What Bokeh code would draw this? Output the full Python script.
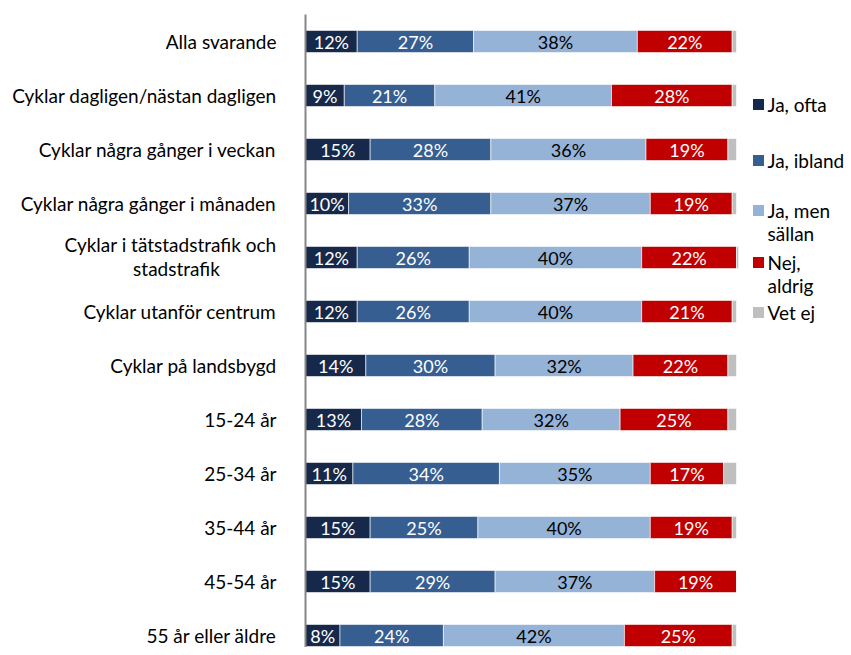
from bokeh.plotting import figure
from bokeh.models import Range1d, ColumnDataSource
from bokeh.core.properties import value
from bokeh.embed import file_html
from bokeh.resources import INLINE

categories = [
    "Alla svarande",
    "Cyklar dagligen/nästan dagligen",
    "Cyklar några gånger i veckan",
    "Cyklar några gånger i månaden",
    "Cyklar i tätstadstrafik och\nstadstrafik",
    "Cyklar utanför centrum",
    "Cyklar på landsbygd",
    "15-24 år",
    "25-34 år",
    "35-44 år",
    "45-54 år",
    "55 år eller äldre",
]
series_names = ["Ja, ofta", "Ja, ibland", "Ja, men sällan", "Nej, aldrig", "Vet ej"]
legend_lines = [["Ja, ofta"], ["Ja, ibland"], ["Ja, men", "sällan"], ["Nej,", "aldrig"], ["Vet ej"]]
ja_ofta = [12, 9, 15, 10, 12, 12, 14, 13, 11, 15, 15, 8]
ja_ibland = [27, 21, 28, 33, 26, 26, 30, 28, 34, 25, 29, 24]
ja_men_sallan = [38, 41, 36, 37, 40, 40, 32, 32, 35, 40, 37, 42]
nej_aldrig = [22, 28, 19, 19, 22, 21, 22, 25, 17, 19, 19, 25]
vet_ej = [1, 1, 2, 1, 0.5, 1, 2, 2, 3, 1, 0, 1]
colors = ["#17294A", "#375E91", "#95B3D7", "#C00000", "#BFBFBF"]
label_colors = ["white", "white", "black", "white", None]

FONT = "Lato"
W, H = 851, 647
px_per_unit = 4.31
x0 = -305 / px_per_unit
x1 = x0 + W / px_per_unit
row_px = 54.0
y_top = -41 / row_px
y_bot = y_top + H / row_px

p = figure(width=W, height=H, output_backend="svg", toolbar_location=None,
           x_range=Range1d(x0, x1), y_range=Range1d(y_bot, y_top),
           min_border=0, min_border_left=0, min_border_right=0,
           min_border_top=0, min_border_bottom=0)
p.axis.visible = False
p.grid.visible = False
p.outline_line_color = None
p.background_fill_color = "white"

series = [ja_ofta, ja_ibland, ja_men_sallan, nej_aldrig, vet_ej]
rows = list(range(len(categories)))
left = [0.0] * len(categories)
bar_h = 0.41
for vals, col, lc in zip(series, colors, label_colors):
    right = [l + v for l, v in zip(left, vals)]
    src = ColumnDataSource(dict(y=rows, left=left, right=right,
                                mid=[(l + r) / 2 for l, r in zip(left, right)],
                                lab=[f"{v:.0f}%" for v in vals]))
    p.hbar(y="y", left="left", right="right", height=bar_h, source=src,
           fill_color=col, line_color="white", line_width=0.6)
    if lc is not None:
        p.text(x="mid", y="y", text="lab", source=src, text_align="center",
               text_baseline="middle", text_color=lc, text_font=value(FONT),
               text_font_size="18px")
    left = right

# category axis line
p.segment(x0=[0], y0=[-0.5], x1=[0], y1=[y_bot], line_color="#868686", line_width=2)

# category labels
LSIZE = "19px"
lab_x = (276 - 305) / px_per_unit
single_y, single_t = [], []
for i, c in enumerate(categories):
    if "\n" in c:
        l1, l2 = c.split("\n")
        p.text(x=[lab_x], y=[i - 0.24], text=[l1], text_align="right",
               text_baseline="middle", text_color="black", text_font=value(FONT),
               text_font_size=LSIZE)
        p.text(x=[(176 - 305) / px_per_unit], y=[i + 0.2], text=[l2], text_align="center",
               text_baseline="middle", text_color="black", text_font=value(FONT),
               text_font_size=LSIZE)
    else:
        single_y.append(i)
        single_t.append(c)
p.text(x=[lab_x] * len(single_y), y=single_y, text=single_t, text_align="right",
       text_baseline="middle", text_color="black", text_font=value(FONT),
       text_font_size=LSIZE)

# legend
leg_sq_x = (758 - 305) / px_per_unit
leg_tx = (767 - 305) / px_per_unit
leg_y = [(104 - 41) / row_px, (160 - 41) / row_px, (210 - 41) / row_px,
         (262 - 41) / row_px, (312 - 41) / row_px]
line_gap = 23 / row_px
for ly, col, lines in zip(leg_y, colors, legend_lines):
    p.rect(x=[leg_sq_x], y=[ly], width=11, height=11, width_units="screen",
           height_units="screen", fill_color=col, line_color=None)
    for k, t in enumerate(lines):
        p.text(x=[leg_tx], y=[ly + k * line_gap], text=[t], text_align="left",
               text_baseline="middle", text_color="black", text_font=value(FONT),
               text_font_size=LSIZE)

open("out.html", "w").write(file_html(p, INLINE))
